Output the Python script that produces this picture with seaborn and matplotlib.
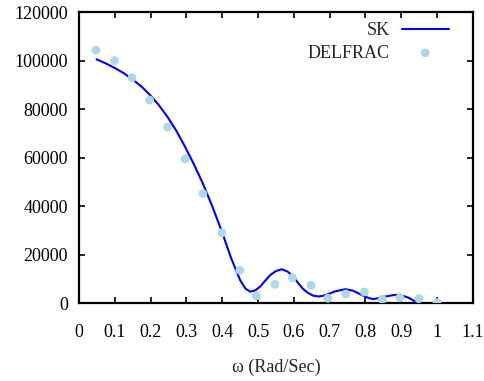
import matplotlib
matplotlib.use("Agg")
import matplotlib.pyplot as plt
import seaborn as sns
import pandas as pd

# DELFRAC data points
delfrac_x = [0.047, 0.099, 0.148, 0.197, 0.247, 0.296, 0.346, 0.399, 0.449, 0.495,
             0.547, 0.596, 0.648, 0.695, 0.745, 0.797, 0.847, 0.896, 0.949, 1.0]
delfrac_y = [104300, 100000, 92900, 83700, 72600, 59500, 45200, 29000, 13600, 3100,
             7800, 10500, 7400, 2050, 3800, 4650, 1640, 2300, 1900, 250]

# SK curve
sk_x = [0.049, 0.075, 0.099, 0.125, 0.148, 0.175, 0.197, 0.222, 0.247, 0.272,
        0.296, 0.320, 0.346, 0.372, 0.399, 0.425, 0.450, 0.465, 0.478, 0.492,
        0.506, 0.520, 0.534, 0.550, 0.567, 0.583, 0.599, 0.612, 0.625, 0.640,
        0.655, 0.670, 0.688, 0.715, 0.744, 0.765, 0.790, 0.808, 0.822, 0.850,
        0.879, 0.897, 0.920, 0.940]
sk_y = [100500, 98800, 97000, 94800, 92400, 89200, 86000, 81800, 76800, 71000,
        64500, 57500, 49300, 40000, 29500, 18500, 9500, 6000, 4800, 5300,
        6900, 9300, 11600, 13300, 14000, 13000, 10900, 8300, 6000, 4200,
        3100, 2800, 3300, 4900, 5800, 5200, 3400, 2200, 1700, 2600,
        3400, 3500, 2300, 650]

xticks = [0, 0.1, 0.2, 0.3, 0.4, 0.5, 0.6, 0.7, 0.8, 0.9, 1, 1.1]
xtick_labels = ["0", "0.1", "0.2", "0.3", "0.4", "0.5", "0.6", "0.7", "0.8", "0.9", "1", "1.1"]
yticks = [0, 20000, 40000, 60000, 80000, 100000, 120000]
ytick_labels = ["0", "20000", "40000", "60000", "80000", "100000", "120000"]

sns.set_style("ticks")
plt.rcParams["font.family"] = ["Liberation Serif", "DejaVu Serif"]

fig = plt.figure(figsize=(4.85, 3.81), dpi=100)
ax = fig.add_axes([0.163, 0.204, 0.812, 0.7645])

sk_df = pd.DataFrame({"x": sk_x, "y": sk_y})
df_df = pd.DataFrame({"x": delfrac_x, "y": delfrac_y})

sns.lineplot(data=sk_df, x="x", y="y", ax=ax, color="#0000ff", linewidth=1.5,
             label="SK", sort=False)
sns.scatterplot(data=df_df, x="x", y="y", ax=ax, color="#add8e6", s=40,
                edgecolor="none", label="DELFRAC", zorder=3)

ax.set_xlim(0, 1.1)
ax.set_ylim(0, 120000)
ax.set_xticks(xticks)
ax.set_xticklabels(xtick_labels)
ax.set_yticks(yticks)
ax.set_yticklabels(ytick_labels)

ax.tick_params(axis="both", direction="in", length=4, width=1.2, labelsize=13,
               top=True, right=True, colors="black")
ax.tick_params(axis="x", pad=15)
ax.tick_params(axis="y", pad=8)
for sp in ax.spines.values():
    sp.set_visible(True)
    sp.set_linewidth(1.6)
    sp.set_color("black")

ax.set_xlabel("ω (Rad/Sec)", fontsize=13, labelpad=13)
ax.set_ylabel("")

leg = ax.legend(loc="upper right", frameon=False, markerfirst=False, fontsize=13,
                handlelength=2.6, handletextpad=0.67, borderaxespad=0.0,
                labelspacing=0.3, bbox_to_anchor=(0.957, 0.99))

fig.savefig("out.png", dpi=100)
